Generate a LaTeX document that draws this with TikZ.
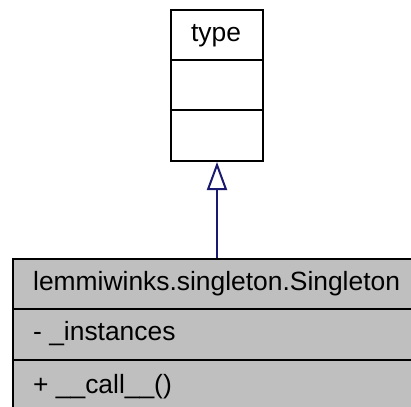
\documentclass[tikz,border=0pt]{standalone}
\usepackage{fontspec}
\setmainfont{Liberation Sans}
\usetikzlibrary{arrows.meta}
\definecolor{edgeblue}{HTML}{191970}
\definecolor{boxgray}{HTML}{BFBFBF}
\tikzset{
  umlbox/.style={draw=black, line width=2pt, inner sep=0pt, anchor=north west},
  umltext/.style={font=\fontsize{26.4}{30}\selectfont, inner sep=0pt},
  inherit/.style={draw=edgeblue, line width=2pt, -{Triangle[open, fill=white, width=20pt, length=28pt, line width=2pt]}}
}
\begin{document}
\begin{tikzpicture}[x=1pt, y=-1pt]
\useasboundingbox (0,0) rectangle (411,406);
\clip (0,0) rectangle (411,406);
\fill[white] (0,0) rectangle (411,406);
% type box
\node[umlbox, minimum width=92pt, minimum height=151pt] (type) at (170,9) {};
\draw[line width=2pt] (170,60) -- (262,60);
\draw[line width=2pt] (170,110) -- (262,110);
\node[umltext, anchor=base] (typelabel) at (216,42) {type};
% singleton box
\node[umlbox, fill=boxgray, minimum width=412pt, minimum height=153pt] (single) at (12,258) {};
\draw[line width=2pt] (12,309) -- (424,309);
\draw[line width=2pt] (12,360) -- (424,360);
\node[umltext, anchor=base west] (sname) at (33,290) {lemmiwinks.singleton.Singleton};
\node[umltext, anchor=base west] (sattr) at (33,340) {- \_instances};
\node[umltext, anchor=base west] (sop) at (33,393) {+ \_\_call\_\_()};
% inheritance
\draw[inherit] (single.north -| type.south) -- (type.south);
\end{tikzpicture}
\end{document}
